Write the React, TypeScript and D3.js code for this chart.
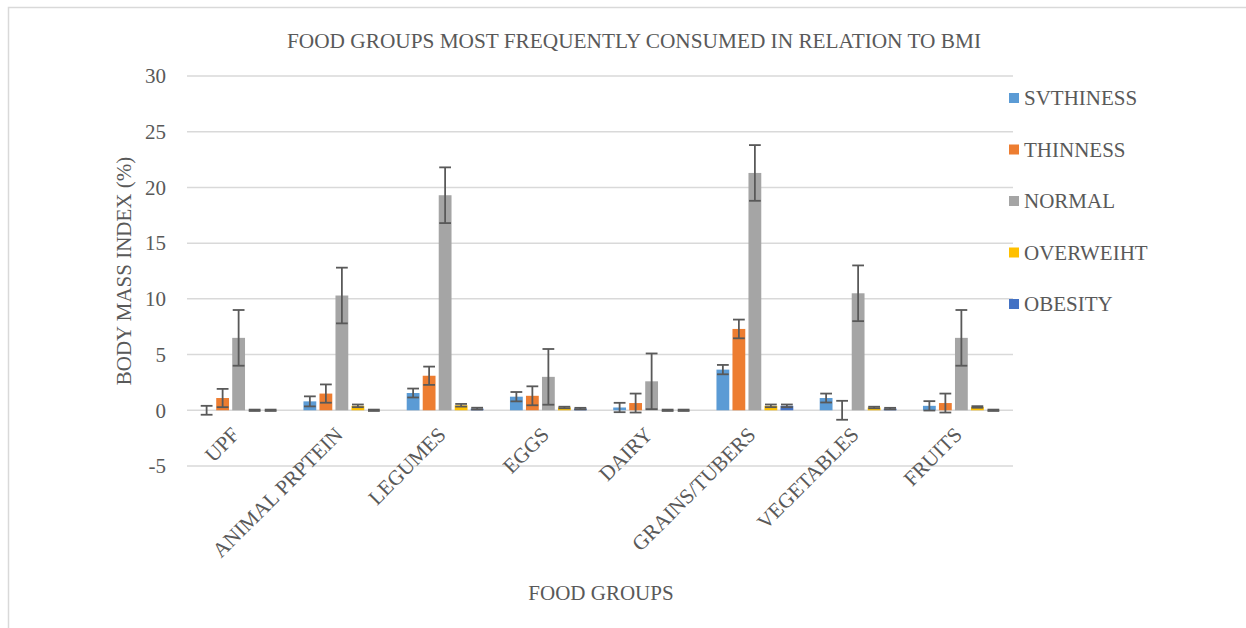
import React from "react";
import * as d3 from "d3";

const categories = ["UPF", "ANIMAL PRPTEIN", "LEGUMES", "EGGS", "DAIRY", "GRAINS/TUBERS", "VEGETABLES", "FRUITS"];
const seriesNames = ["SVTHINESS", "THINNESS", "NORMAL", "OVERWEIHT", "OBESITY"];
const seriesColors = ["#5b9bd5", "#ed7d31", "#a5a5a5", "#ffc000", "#4472c4"];

const svThinness = [0.0, 0.8, 1.55, 1.22, 0.25, 3.65, 1.1, 0.4];
const thinness = [1.1, 1.5, 3.1, 1.3, 0.65, 7.3, 0.0, 0.65];
const normal = [6.5, 10.3, 19.3, 3.0, 2.6, 21.3, 10.5, 6.5];
const overweight = [0.0, 0.4, 0.45, 0.25, 0.0, 0.4, 0.25, 0.3];
const obesity = [0.0, 0.0, 0.15, 0.15, 0.0, 0.4, 0.15, 0.0];

const svErr = [0.4, 0.45, 0.4, 0.42, 0.42, 0.42, 0.4, 0.42];
const thinErr = [0.82, 0.82, 0.82, 0.85, 0.85, 0.84, 0.85, 0.85];
const normalErr = [2.5, 2.5, 2.5, 2.5, 2.5, 2.5, 2.5, 2.5];
const overErr = [0.06, 0.12, 0.12, 0.07, 0.06, 0.12, 0.07, 0.07];
const obesityErr = [0.06, 0.06, 0.08, 0.07, 0.06, 0.12, 0.07, 0.06];

const yTicks = [-5, 0, 5, 10, 15, 20, 25, 30];

const values = [svThinness, thinness, normal, overweight, obesity];
const errors = [svErr, thinErr, normalErr, overErr, obesityErr];

const W = 1246;
const H = 628;
const left = 187;
const right = 1013;
const top = 76;
const bottom = 466;
const FONT = "'Liberation Serif', 'Times New Roman', serif";
const TXT = "#595959";
const FS = 21;

export default function App() {
  const y = d3.scaleLinear().domain([-5, 30]).range([bottom, top]);
  const x0 = d3.scaleBand<string>().domain(categories).range([left, right]).paddingInner(0.225).paddingOuter(0.1125);
  const x1 = d3.scaleBand<string>().domain(seriesNames).range([0, x0.bandwidth()]).paddingInner(0.2).paddingOuter(0.1);
  const bw = x1.bandwidth();

  return (
    <div style={{ position: "absolute", left: 0, top: 0 }}>
      <svg width={W} height={H} style={{ display: "block", background: "#fff", fontFamily: FONT }}>
        <rect x={8.5} y={7.5} width={W + 10} height={H + 10} fill="#fff" stroke="#d9d9d9" strokeWidth={1.5} />
        <text x={634} y={48} textAnchor="middle" fontSize={21.3} fill={TXT} fontFamily={FONT}>
          FOOD GROUPS MOST FREQUENTLY CONSUMED IN RELATION TO BMI
        </text>
        {yTicks.map((t) => (
          <g key={t}>
            <line x1={left} x2={right} y1={y(t)} y2={y(t)} stroke="#d9d9d9" strokeWidth={1.5} />
            <text x={166} y={y(t)} dy="0.35em" textAnchor="end" fontSize={FS} fill={TXT} fontFamily={FONT}>
              {t}
            </text>
          </g>
        ))}
        <text transform={`translate(131,${(top + bottom) / 2}) rotate(-90)`} textAnchor="middle" fontSize={FS} fill={TXT} fontFamily={FONT}>
          BODY MASS INDEX (%)
        </text>
        {seriesNames.map((s, si) =>
          categories.map((c, ci) => {
            const v = values[si][ci];
            const bx = (x0(c) as number) + (x1(s) as number);
            const y0 = y(0);
            const yv = y(v);
            return (
              <rect key={`${s}-${c}`} x={bx} width={bw} y={Math.min(y0, yv)} height={Math.abs(y0 - yv)} fill={seriesColors[si]} />
            );
          })
        )}
        {seriesNames.map((s, si) =>
          categories.map((c, ci) => {
            const v = values[si][ci];
            const e = errors[si][ci];
            const bx = (x0(c) as number) + (x1(s) as number);
            const cx = bx + bw / 2;
            const yt = y(v + e);
            const yb = y(v - e);
            const hw = bw / 2 - 0.5;
            return (
              <g key={`e-${s}-${c}`} stroke="#595959" strokeWidth={1.8}>
                <line x1={cx} x2={cx} y1={yt} y2={yb} />
                <line x1={cx - hw} x2={cx + hw} y1={yt} y2={yt} />
                <line x1={cx - hw} x2={cx + hw} y1={yb} y2={yb} />
              </g>
            );
          })
        )}
        {categories.map((c) => {
          const cx = (x0(c) as number) + x0.bandwidth() / 2;
          return (
            <text key={c} transform={`translate(${cx + 2},${436}) rotate(-45)`} textAnchor="end" fontSize={FS} fill={TXT} fontFamily={FONT}>
              {c}
            </text>
          );
        })}
        <text x={601} y={600} textAnchor="middle" fontSize={FS} fill={TXT} fontFamily={FONT}>
          FOOD GROUPS
        </text>
        {seriesNames.map((s, i) => {
          const ly = 98 + i * 51.5;
          return (
            <g key={s}>
              <rect x={1009} y={ly - 5} width={10} height={10} fill={seriesColors[i]} />
              <text x={1024} y={ly} dy="0.35em" fontSize={FS} fill={TXT} fontFamily={FONT}>
                {s}
              </text>
            </g>
          );
        })}
      </svg>
    </div>
  );
}
